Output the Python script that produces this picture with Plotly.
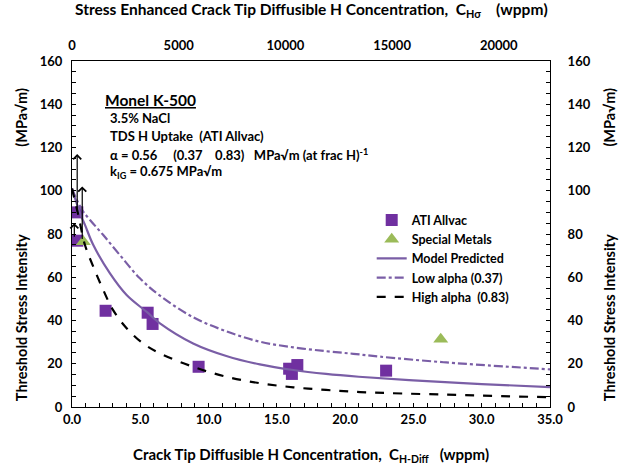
import plotly.graph_objects as go

# ---- data ----
ati_x = [0.39, 0.39, 2.46, 5.54, 5.9, 9.27, 15.9, 16.1, 16.5, 23.0]
ati_y = [90.0, 76.9, 44.5, 43.6, 38.4, 18.6, 17.7, 15.3, 19.4, 16.8]

sm_x = [0.83, 27.0]
sm_y = [76.4, 31.3]

model_x = [0.0, 0.59, 0.95, 1.56, 2.78, 4.0, 5.54, 6.44, 8.87, 11.3, 13.75, 16.2, 18.6, 21.0, 25.0, 30.0, 35.0]
model_y = [101.0, 89.6, 84.2, 74.9, 61.8, 51.8, 43.6, 38.7, 29.4, 23.6, 19.7, 17.1, 15.3, 14.0, 12.3, 10.6, 9.2]

low_x = [0.0, 0.7, 1.32, 2.29, 3.5, 4.97, 6.44, 8.87, 11.3, 13.75, 16.2, 18.6, 20.6, 22.5, 27.4, 35.0]
low_y = [101.0, 91.5, 86.5, 79.5, 70.3, 59.5, 51.5, 41.5, 35.0, 30.2, 27.6, 25.8, 24.6, 23.3, 20.6, 17.4]

high_x = [0.0, 0.46, 0.95, 1.56, 2.29, 3.0, 4.0, 5.2, 6.44, 8.87, 11.3, 13.75, 16.2, 18.6, 21.1, 27.4, 35.0]
high_y = [101.0, 88.8, 74.9, 64.9, 54.1, 44.9, 36.4, 29.4, 24.8, 18.6, 14.0, 11.0, 9.1, 7.9, 6.9, 5.7, 4.5]

# lower-bound arrows: x, start y, end y
arrow_x = [0.38, 0.75, 0.17]
arrow_y0 = [90.0, 77.0, 78.0]
arrow_y1 = [117.0, 102.0, 85.0]

x_ticks = [0, 5, 10, 15, 20, 25, 30, 35]
y_ticks = [0, 20, 40, 60, 80, 100, 120, 140, 160]
top_ticks = [0, 5000, 10000, 15000, 20000]
top_max = 22400

FONT = "Lato"
PURPLE_SQ = "#7030A0"
GREEN = "#9BBB59"
PURPLE_LN = "#7A5EA6"

fig = go.Figure()
fig.add_trace(go.Scatter(x=ati_x, y=ati_y, mode="markers", name="ATI Allvac",
                         marker=dict(symbol="square", size=12, color=PURPLE_SQ)))
fig.add_trace(go.Scatter(x=sm_x, y=sm_y, mode="markers", name="Special Metals",
                         marker=dict(symbol="triangle-up", size=13, color=GREEN)))
fig.add_trace(go.Scatter(x=model_x, y=model_y, mode="lines", name="Model Predicted",
                         line=dict(color=PURPLE_LN, width=2.2, shape="spline")))
fig.add_trace(go.Scatter(x=low_x, y=low_y, mode="lines", name="Low alpha (0.37)",
                         line=dict(color=PURPLE_LN, width=2.2, dash="dashdot", shape="spline")))
fig.add_trace(go.Scatter(x=high_x, y=high_y, mode="lines", name="High alpha  (0.83)",
                         line=dict(color="black", width=2.2, dash="dash", shape="spline")))
# dummy trace to activate secondary axes
fig.add_trace(go.Scatter(x=[0], y=[0], xaxis="x2", yaxis="y2", mode="markers",
                         marker=dict(opacity=0), showlegend=False, hoverinfo="skip"))

for ax, a0, a1 in zip(arrow_x, arrow_y0, arrow_y1):
    fig.add_annotation(x=ax, y=a1, ax=ax, ay=a0, xref="x", yref="y", axref="x", ayref="y",
                       showarrow=True, arrowhead=4, arrowsize=1.3, arrowwidth=1.2,
                       arrowcolor="black", text="")

tick_font = dict(family=FONT, size=13, color="black", weight="bold")
fig.update_layout(
    width=625, height=470,
    margin=dict(l=72, r=75, t=61, b=63),
    paper_bgcolor="white", plot_bgcolor="white",
    font=dict(family=FONT, color="black"),
    showlegend=True,
    legend=dict(x=0.627, y=0.583, xanchor="left", yanchor="top", bgcolor="rgba(0,0,0,0)",
                font=dict(family=FONT, size=12.5, color="black", weight="bold"),
                tracegroupgap=0, itemwidth=30),
    xaxis=dict(range=[0, 35], tickvals=x_ticks, tickformat=".1f", ticks="inside", ticklen=4,
               tickcolor="black", showline=True, linecolor="black", linewidth=1,
               showgrid=False, zeroline=False,
               minor=dict(dtick=1, ticks="inside", ticklen=4, tickcolor="black"),
               tickfont=tick_font),
    yaxis=dict(range=[0, 160], tickvals=y_ticks, ticks="inside", ticklen=4, tickcolor="black",
               showline=True, linecolor="black", linewidth=1, showgrid=False, zeroline=False,
               minor=dict(dtick=5, ticks="inside", ticklen=4, tickcolor="black"),
               tickfont=tick_font, ticklabelstandoff=6),
    xaxis2=dict(range=[0, top_max], tickvals=top_ticks, tickformat="d", overlaying="x", side="top",
                ticks="", showline=True, linecolor="black", linewidth=1, showgrid=False,
                zeroline=False, tickfont=tick_font, ticklabelstandoff=5),
    yaxis2=dict(range=[0, 160], tickvals=y_ticks, overlaying="y", side="right", ticks="inside",
                ticklen=4, tickcolor="black", showline=True, linecolor="black", linewidth=1,
                showgrid=False, zeroline=False,
                minor=dict(dtick=5, ticks="inside", ticklen=4, tickcolor="black"),
                tickfont=tick_font, ticklabelstandoff=14),
)

title_font = dict(family=FONT, size=15, color="black", weight="bold")
fig.add_annotation(text="Crack Tip Diffusible H Concentration,  C<sub>H-Diff</sub>   (wppm)",
                   xref="paper", yref="paper", x=0.5, y=-0.14, xanchor="center", yanchor="middle",
                   showarrow=False, font=title_font)
fig.add_annotation(text="Stress Enhanced Crack Tip Diffusible H Concentration,  C<sub>Hσ</sub>    (wppm)",
                   xref="paper", yref="paper", x=0.5, y=1.147, xanchor="center", yanchor="middle",
                   showarrow=False, font=dict(family=FONT, size=15.5, color="black", weight="bold"))
for xp in [-0.105, 1.125]:
    fig.add_annotation(text="Threshold Stress Intensity                         (MPa√m)",
                       xref="paper", yref="paper", x=xp, y=0.47, xanchor="center", yanchor="middle",
                       textangle=-90, showarrow=False,
                       font=dict(family=FONT, size=14.5, color="black", weight="bold"))

fig.add_annotation(text="<u>Monel K-500</u>", xref="paper", yref="paper", x=0.065, y=0.886,
                   xanchor="left", yanchor="middle", showarrow=False,
                   font=dict(family=FONT, size=15.5, color="black", weight="bold"))
info_lines = ["3.5% NaCl", "TDS H Uptake  (ATI Allvac)",
              "α = 0.56     (0.37    0.83)   MPa√m (at frac H)<sup>-1</sup>",
              "k<sub>IG</sub> = 0.675 MPa√m"]
info_y = [0.834, 0.782, 0.73, 0.678]
for t, yy in zip(info_lines, info_y):
    fig.add_annotation(text=t, xref="paper", yref="paper", x=0.075, y=yy, xanchor="left",
                       yanchor="middle", showarrow=False,
                       font=dict(family=FONT, size=13, color="black", weight="bold"))

fig.write_html("out.html")
